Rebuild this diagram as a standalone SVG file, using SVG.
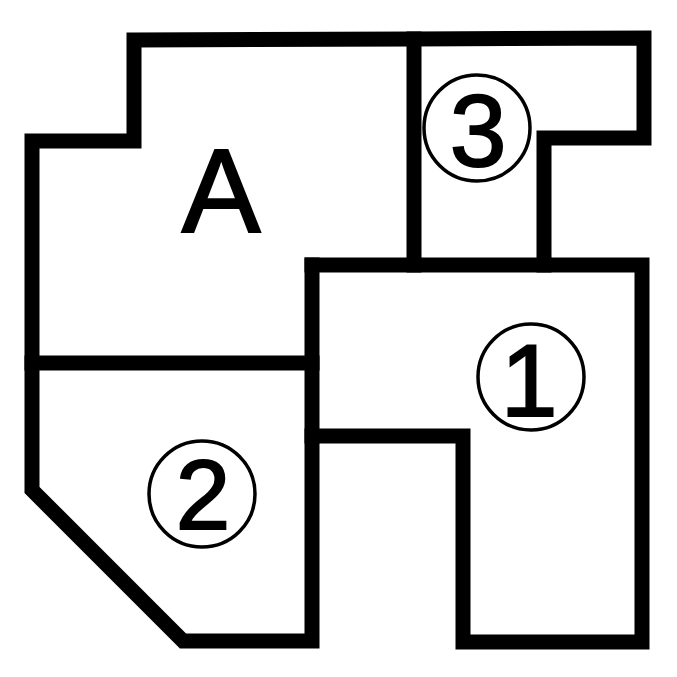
<svg xmlns="http://www.w3.org/2000/svg" width="677" height="677" viewBox="0 0 677 677">
<style>
.wall{fill:none;stroke:#000;stroke-width:15;stroke-linejoin:miter;stroke-linecap:square}
.ring{fill:none;stroke:#000;stroke-width:3.5}
.lbl{font-family:"Liberation Sans",Arial,sans-serif;fill:#000;stroke:#000;stroke-width:2;text-anchor:middle}
</style>
<rect width="677" height="677" fill="#fff"/>
<g id="walls">
<path class="wall" d="M134,40 L414,39 L644,38 L644,138 L544,138 L544,265 L642,265 L642,642 L463,642 L463,436 L312,436 L312,641 L183,641 L32,490 L32,141 L134,141 Z"/>
<path class="wall" d="M414,39 L414,265"/>
<path class="wall" d="M312,265 L544,265"/>
<path class="wall" d="M312,265 L312,436"/>
<path class="wall" d="M32,363 L312,363"/>
</g>
<g id="room-A">
<text class="lbl" x="221" y="232" font-size="118">A</text>
</g>
<g id="room-1">
<circle class="ring" cx="531" cy="377" r="53"/>
<text class="lbl" x="529" y="416" font-size="102">1</text>
</g>
<g id="room-2">
<circle class="ring" cx="202" cy="494" r="53"/>
<text class="lbl" x="203" y="529" font-size="98">2</text>
</g>
<g id="room-3">
<circle class="ring" cx="477" cy="128" r="53"/>
<text class="lbl" x="478" y="166" font-size="102">3</text>
</g>
</svg>
